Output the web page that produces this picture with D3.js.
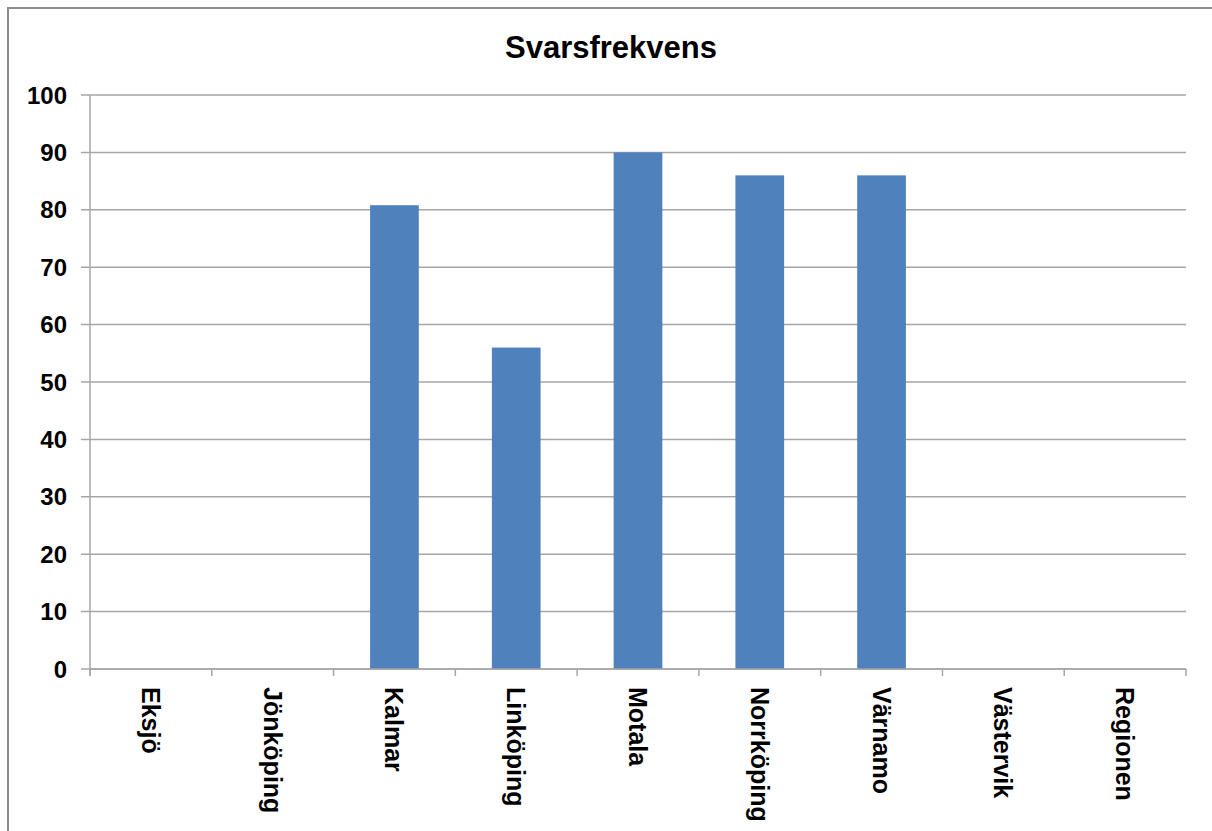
<!DOCTYPE html>
<html>
<head>
<meta charset="utf-8">
<script src="https://cdn.jsdelivr.net/npm/d3@7/dist/d3.min.js"></script>
<style>
html,body{margin:0;padding:0;background:#fff;}
svg{display:block;}
text{font-family:"Liberation Sans",Arial,sans-serif;font-weight:bold;fill:#000;}
</style>
</head>
<body>
<svg id="chart" width="1212" height="831"></svg>
<script>
const categories = ["Eksjö","Jönköping","Kalmar","Linköping","Motala","Norrköping","Värnamo","Västervik","Regionen"];
const values = [null, null, 80.8, 56, 90, 86, 86, null, null];
const yTicks = [0,10,20,30,40,50,60,70,80,90,100];
const title = "Svarsfrekvens";

(function(){
const svg = d3.select("#chart");
const W = 1212, H = 831;
const pLeft = 90, pRight = 1186, pTop = 95, pBottom = 669;

// outer frame
svg.append("rect").attr("x",8).attr("y",8).attr("width",W+20).attr("height",H+20)
  .attr("fill","#fff").attr("stroke","#8c8c8c").attr("stroke-width",2);

const x = d3.scaleBand().domain(categories).range([pLeft,pRight]).paddingInner(0.6).paddingOuter(0.3);
const y = d3.scaleLinear().domain([0,100]).range([pBottom,pTop]);

// gridlines
svg.append("g").selectAll("line").data(yTicks).join("line")
  .attr("x1",81).attr("x2",pRight)
  .attr("y1",d=>y(d)).attr("y2",d=>y(d))
  .attr("stroke","#a6a6a6").attr("stroke-width",1.5);

// y tick labels
svg.append("g").selectAll("text").data(yTicks).join("text")
  .attr("x",67).attr("y",d=>y(d)).attr("text-anchor","end")
  .attr("dominant-baseline","central").style("font-size","24px").text(d=>d);

// bars
svg.append("g").selectAll("rect").data(categories.map((c,i)=>({c,v:values[i]})).filter(d=>d.v!=null))
  .join("rect")
  .attr("x",d=>x(d.c)).attr("width",x.bandwidth())
  .attr("y",d=>y(d.v)).attr("height",d=>y(0)-y(d.v))
  .attr("fill","#4f81bd");

// y axis line
svg.append("line").attr("x1",pLeft).attr("x2",pLeft).attr("y1",pTop).attr("y2",676)
  .attr("stroke","#a6a6a6").attr("stroke-width",1.5);
// x axis line
svg.append("line").attr("x1",pLeft).attr("x2",pRight).attr("y1",pBottom).attr("y2",pBottom)
  .attr("stroke","#a6a6a6").attr("stroke-width",1.5);
// x ticks at category boundaries
const bounds = d3.range(categories.length+1).map(i=>pLeft+i*(pRight-pLeft)/categories.length);
svg.append("g").selectAll("line").data(bounds).join("line")
  .attr("x1",d=>d).attr("x2",d=>d).attr("y1",pBottom).attr("y2",676)
  .attr("stroke","#a6a6a6").attr("stroke-width",1.5);

// x labels
svg.append("g").selectAll("text").data(categories).join("text")
  .attr("transform",d=>`translate(${x(d)+x.bandwidth()/2},687) rotate(90)`)
  .attr("text-anchor","start").attr("dominant-baseline","central")
  .style("font-size","25px").text(d=>d);

// title
svg.append("text").attr("x",611).attr("y",47).attr("text-anchor","middle")
  .attr("dominant-baseline","central").style("font-size","31px").text(title);
})();
</script>
</body>
</html>
